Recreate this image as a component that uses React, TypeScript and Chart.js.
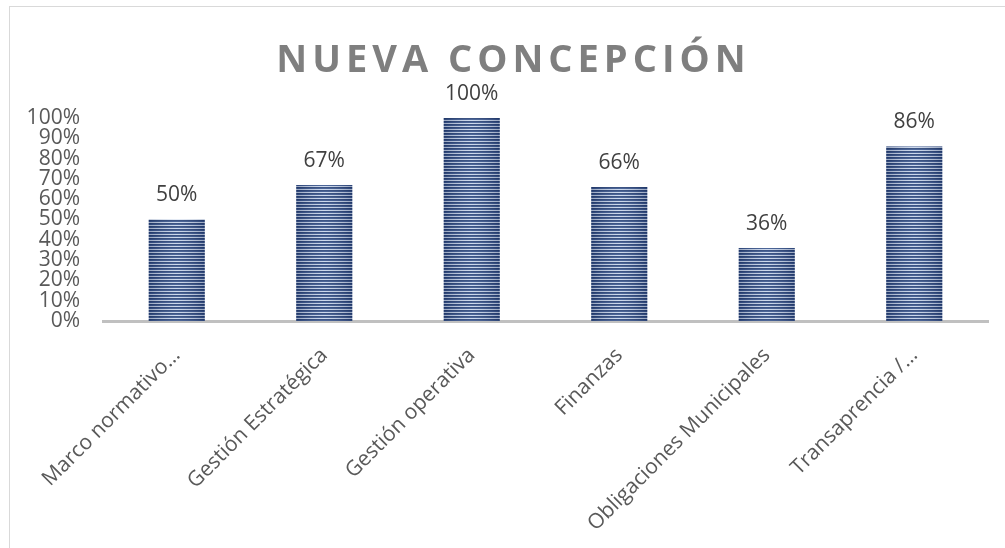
import React, { useEffect, useRef } from "react";
import { Chart, registerables } from "chart.js";

Chart.register(...registerables);

const TITLE = "NUEVA CONCEPCIÓN";
const categories = [
  "Marco normativo…",
  "Gestión Estratégica",
  "Gestión operativa",
  "Finanzas",
  "Obligaciones Municipales",
  "Transaprencia /…",
];
const values = [50, 67, 100, 66, 36, 86];
const yTickValues = [0, 10, 20, 30, 40, 50, 60, 70, 80, 90, 100];

const FONT = '"Open Sans", "Liberation Sans", sans-serif';

function makeStripePattern(ctx: CanvasRenderingContext2D) {
  const c = document.createElement("canvas");
  c.width = 4;
  c.height = 3;
  const p = c.getContext("2d")!;
  p.fillStyle = "#1c3870";
  p.fillRect(0, 0, 4, 1);
  p.fillStyle = "#2d4b86";
  p.fillRect(0, 1, 4, 1);
  p.fillStyle = "#c5d3ea";
  p.fillRect(0, 2, 4, 1);
  return ctx.createPattern(c, "repeat")!;
}

const titlePlugin = {
  id: "customTitle",
  afterDraw(chart: any) {
    const ctx = chart.ctx as CanvasRenderingContext2D;
    ctx.save();
    ctx.font = `bold 38px ${FONT}`;
    (ctx as any).letterSpacing = "5px";
    ctx.fillStyle = "#7f7f7f";
    ctx.textAlign = "center";
    ctx.textBaseline = "alphabetic";
    ctx.fillText(TITLE, chart.width / 2 + 2.5, 65);
    ctx.restore();
  },
};

const barDecorPlugin = {
  id: "barDecor",
  afterDatasetsDraw(chart: any) {
    const ctx = chart.ctx as CanvasRenderingContext2D;
    const meta = chart.getDatasetMeta(0);
    meta.data.forEach((el: any, i: number) => {
      const { x, y, base, width } = el.getProps(["x", "y", "base", "width"], true);
      const left = x - width / 2;
      const g = ctx.createLinearGradient(left, 0, left + width, 0);
      g.addColorStop(0, "rgba(40,50,80,0.28)");
      g.addColorStop(0.5, "rgba(255,255,255,0.15)");
      g.addColorStop(1, "rgba(40,50,80,0.28)");
      ctx.save();
      ctx.fillStyle = g;
      ctx.fillRect(left, y, width, base - y);
      ctx.font = `21px ${FONT}`;
      ctx.fillStyle = "#404040";
      ctx.textAlign = "center";
      ctx.textBaseline = "middle";
      ctx.fillText(values[i] + "%", x, y - 24);
      ctx.restore();
    });
  },
};

export default function App() {
  const ref = useRef<HTMLCanvasElement | null>(null);

  useEffect(() => {
    const canvas = ref.current!;
    const ctx = canvas.getContext("2d")!;
    const pattern = makeStripePattern(ctx);
    const chart = new Chart(canvas, {
      type: "bar",
      data: {
        labels: categories,
        datasets: [
          {
            data: values,
            backgroundColor: pattern,
            borderWidth: 0,
            barPercentage: 0.38,
            categoryPercentage: 1,
          },
        ],
      },
      options: {
        responsive: false,
        animation: false,
        devicePixelRatio: 1,
        layout: { padding: { top: 111, right: 24, bottom: 0, left: 0 } },
        plugins: {
          legend: { display: false },
          title: { display: false },
          tooltip: { enabled: false },
        },
        scales: {
          x: {
            grid: { display: false, drawTicks: false },
            border: { display: true, color: "#c0c0c0", width: 3 },
            ticks: {
              color: "#595959",
              font: { family: FONT, size: 21 },
              minRotation: 45,
              maxRotation: 45,
              autoSkip: false,
              padding: 22,
            },
            afterFit: (scale: any) => {
              scale.height = 227;
            },
          },
          y: {
            min: 0,
            max: 100,
            grid: { display: false, drawTicks: false },
            border: { display: false },
            afterBuildTicks: (scale: any) => {
              scale.ticks = yTickValues.map((v) => ({ value: v }));
            },
            ticks: {
              color: "#595959",
              font: { family: FONT, size: 21, lineHeight: 1 },
              autoSkip: false,
              padding: 23,
              callback: (v: any) => v + "%",
            },
            afterFit: (scale: any) => {
              scale.width = 93;
            },
          },
        },
      },
      plugins: [titlePlugin, barDecorPlugin],
    });
    return () => chart.destroy();
  }, []);

  return (
    <div
      style={{
        position: "fixed",
        left: 9,
        top: 6,
        width: 1010,
        height: 560,
        border: "1px solid #d9d9d9",
        background: "#fff",
      }}
    >
      <canvas ref={ref} width={1002} height={541} style={{ display: "block" }} />
    </div>
  );
}
